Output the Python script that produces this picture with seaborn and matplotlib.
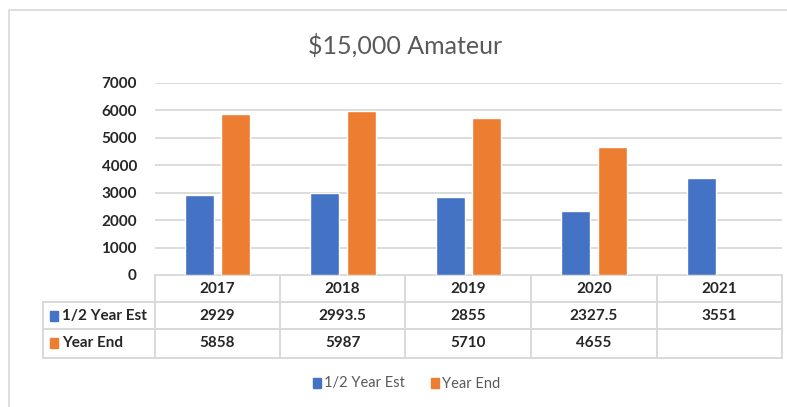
import pandas as pd
import matplotlib.pyplot as plt
import seaborn as sns
import numpy as np
from matplotlib.patches import Rectangle

years = ['2017', '2018', '2019', '2020', '2021']
half_year_est = [2929, 2993.5, 2855, 2327.5, 3551]
year_end = [5858, 5987, 5710, 4655, np.nan]
series_names = ['1/2 Year Est', 'Year End']
colors = ['#4472C4', '#ED7D31']

table = pd.DataFrame({
    'year': years * 2,
    'value': half_year_est + year_end,
    'series': [series_names[0]] * len(years) + [series_names[1]] * len(years),
})

sns.set_style('white')
plt.rcParams['font.family'] = ['Lato', 'DejaVu Sans']

W, H = 787, 407
fig = plt.figure(figsize=(W / 100, H / 100), dpi=100)

# overlay in pixel coordinates for frame, table and legend
over = fig.add_axes([0, 0, 1, 1])
over.set_xlim(0, W)
over.set_ylim(H, 0)
over.axis('off')

ax = fig.add_axes([155 / W, (H - 275) / H, 627 / W, 192 / H])
sns.barplot(data=table, x='year', y='value', hue='series', palette=colors,
            width=0.58, gap=0.2, ax=ax, legend=False, saturation=1)
ax.set_xlim(-0.5, 4.5)
ax.set_ylim(0, 7000)
ax.set_yticks(range(0, 7001, 1000))
ax.yaxis.grid(True, color='#d9d9d9', linewidth=1.3)
ax.set_axisbelow(True)
for s in ax.spines.values():
    s.set_visible(False)
ax.set_xticks([])
ax.set_xlabel('')
ax.set_ylabel('')
ax.tick_params(axis='y', length=0, pad=13, labelsize=11, labelcolor='#262626')
for lab in ax.get_yticklabels():
    lab.set_fontweight('bold')

fig.text(405 / W, 1 - 45 / H, '$15,000 Amateur', ha='center', va='center',
         fontsize=18, color='#595959')

line_c = '#d9d9d9'
lw = 1.4
# chart frame
over.plot([9, 9, W], [H, 10, 10], color=line_c, lw=1.2)

col_edges = [155, 280, 405, 531, 657, 782]
row_edges = [275, 302, 329, 358]
over.plot([155, 782], [275, 275], color=line_c, lw=lw)
for y in row_edges[1:]:
    over.plot([43, 782], [y, y], color=line_c, lw=lw)
over.plot([43, 43], [302, 358], color=line_c, lw=lw)
for x in col_edges:
    over.plot([x, x], [275, 358], color=line_c, lw=lw)

txt = dict(ha='center', va='center', fontsize=11, fontweight='bold', color='#262626')
for i, yr in enumerate(years):
    cx = (col_edges[i] + col_edges[i + 1]) / 2
    over.text(cx, 289, yr, **txt)
    v = half_year_est[i]
    over.text(cx, 316, f'{v:g}', **txt)
    v = year_end[i]
    if not np.isnan(v):
        over.text(cx, 343, f'{v:g}', **txt)

for (name, c, y) in zip(series_names, colors, [316, 343]):
    over.add_patch(Rectangle((50, y - 5), 8, 10, color=c))
    over.text(62, y, name, ha='left', va='center', fontsize=11,
              fontweight='bold', color='#262626')

# legend
for (name, c, x) in zip(series_names, colors, [313, 431]):
    over.add_patch(Rectangle((x, 378), 8, 10, color=c))
    over.text(x + 11, 383.5, name, ha='left', va='center', fontsize=10.5,
              color='#595959')

fig.savefig('out.png', dpi=100)
